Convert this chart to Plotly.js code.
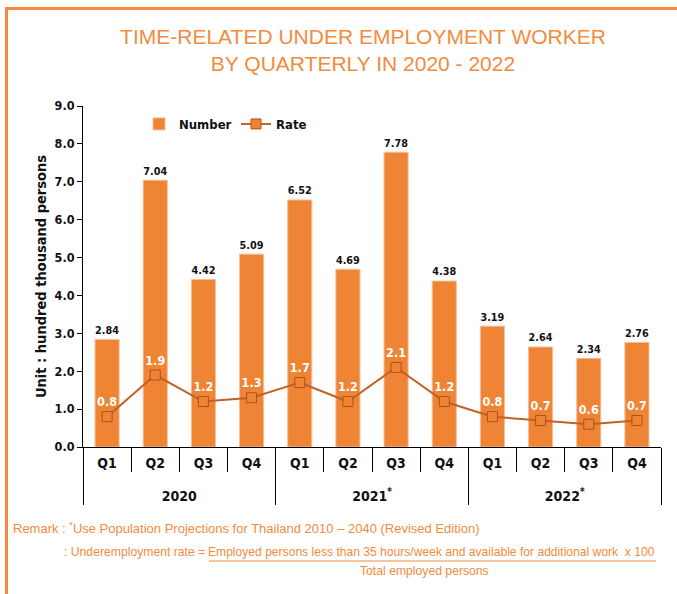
<!DOCTYPE html>
<html>
<head>
<meta charset="utf-8">
<script src="https://cdn.plot.ly/plotly-3.0.1.min.js"></script>
<style>
  html, body { margin: 0; padding: 0; background: #fff; }
  #chart { position: absolute; left: 0; top: 0; width: 677px; height: 594px; }
  #frame { position: absolute; left: 5px; top: 7px; width: 700px; height: 620px;
           border-top: 3px solid #F28B3E; border-left: 3px solid #F28B3E; pointer-events: none; }
</style>
</head>
<body>
<div id="chart"></div>
<div id="frame"></div>
<script>
// ---- data ----
const years = ['2020','2020','2020','2020',
               '2021<sup>*</sup>','2021<sup>*</sup>','2021<sup>*</sup>','2021<sup>*</sup>',
               '2022<sup>*</sup>','2022<sup>*</sup>','2022<sup>*</sup>','2022<sup>*</sup>'];
const quarters = ['Q1','Q2','Q3','Q4','Q1','Q2','Q3','Q4','Q1','Q2','Q3','Q4'];
const numberVals = [2.84, 7.04, 4.42, 5.09, 6.52, 4.69, 7.78, 4.38, 3.19, 2.64, 2.34, 2.76];
const rateVals   = [0.8, 1.9, 1.2, 1.3, 1.7, 1.2, 2.1, 1.2, 0.8, 0.7, 0.6, 0.7];

const ORANGE = '#EE8434';
const TXT_OR = '#F28B3E';
const BOLD = 'DejaVu Sans Condensed, DejaVu Sans, sans-serif';
const REG = 'Liberation Sans, Arial, sans-serif';

// year labels sit one line lower than the quarter labels
const yearLabels = years.map(y => '&nbsp;<br>' + y);

// pixel helpers for plot-area geometry (plot: x 83..661, y 106..447)
const L = 83, R = 661, T = 106, B = 447;
const px = v => (v - L) / (R - L);
const py = v => (B - v) / (B - T);

const traces = [
  {
    type: 'bar', name: 'Number',
    x: [yearLabels, quarters], y: numberVals,
    width: 0.5,
    marker: { color: ORANGE, line: { color: '#F7BE93', width: 1 } },
    text: numberVals.map(v => v.toFixed(2)),
    textposition: 'outside',
    textfont: { family: BOLD, size: 12.5, color: '#111', weight: 'bold' },
    cliponaxis: false,
    hoverinfo: 'skip'
  },
  {
    type: 'scatter', mode: 'lines+markers+text', name: 'Rate',
    x: [yearLabels, quarters], y: rateVals,
    line: { color: '#BF6128', width: 2 },
    marker: { symbol: 'square', size: 10, color: ORANGE, line: { color: '#A9541F', width: 1 } },
    text: rateVals.map(v => v.toFixed(1)),
    textposition: 'top center',
    textfont: { family: BOLD, size: 12.5, color: '#ffffff', weight: 'bold' },
    cliponaxis: false,
    hoverinfo: 'skip'
  }
];

const layout = {
  width: 677, height: 594,
  margin: { l: L, r: 677 - R, t: T, b: 594 - B },
  paper_bgcolor: '#fff', plot_bgcolor: '#fff',
  showlegend: true,
  title: {
    text: 'TIME-RELATED UNDER EMPLOYMENT WORKER<br>BY QUARTERLY IN 2020 - 2022',
    font: { family: REG, size: 21, color: TXT_OR },
    x: 363 / 677, xanchor: 'center', xref: 'container',
    y: 1 - 44 / 594, yanchor: 'top', yref: 'container'
  },
  legend: {
    orientation: 'h', x: px(139), y: py(124), xanchor: 'left', yanchor: 'middle',
    font: { family: BOLD, size: 13, color: '#111', weight: 'bold' },
    entrywidth: 52, entrywidthmode: 'pixels',
    bgcolor: 'rgba(0,0,0,0)', traceorder: 'normal'
  },
  xaxis: {
    type: 'multicategory',
    range: [-0.5, 11.5],
    showline: true, linecolor: '#000', linewidth: 1,
    ticks: 'outside', tickson: 'boundaries', ticklen: 24, tickcolor: '#000', tickwidth: 1,
    ticklabelstandoff: 3,
    showdividers: true, dividercolor: '#000', dividerwidth: 1,
    tickfont: { family: BOLD, size: 14, color: '#111', weight: 'bold' },
    showgrid: false, zeroline: false, fixedrange: true
  },
  yaxis: {
    range: [0, 9], dtick: 1, tickformat: '.1f',
    showline: true, linecolor: '#000', linewidth: 1,
    ticks: 'outside', ticklen: 5, tickcolor: '#000',
    tickfont: { family: BOLD, size: 12.5, color: '#111', weight: 'bold' },
    showgrid: false, zeroline: false, fixedrange: true,
    title: { text: 'Unit : hundred thousand persons', standoff: 4,
             font: { family: BOLD, size: 14.5, color: '#111', weight: 'bold' } }
  },
  shapes: [
    { type: 'line', xref: 'paper', yref: 'paper',
      x0: px(209), x1: px(656), y0: py(561), y1: py(561),
      line: { color: TXT_OR, width: 1 } }
  ],
  annotations: [
    { xref: 'paper', yref: 'paper', x: px(11), y: py(528), xanchor: 'left', yanchor: 'middle',
      showarrow: false, text: 'Remark : <sup>*</sup>Use Population Projections for Thailand 2010 – 2040 (Revised Edition)',
      font: { family: REG, size: 13, color: TXT_OR } },
    { xref: 'paper', yref: 'paper', x: px(62), y: py(552), xanchor: 'left', yanchor: 'middle',
      showarrow: false, text: ': Underemployment rate =',
      font: { family: REG, size: 12.2, color: TXT_OR } },
    { xref: 'paper', yref: 'paper', x: px(206), y: py(552), xanchor: 'left', yanchor: 'middle',
      showarrow: false, text: 'Employed persons less than 35 hours/week and available for additional work&nbsp;&nbsp;x 100',
      font: { family: REG, size: 12.1, color: TXT_OR } },
    { xref: 'paper', yref: 'paper', x: px(424), y: py(571), xanchor: 'center', yanchor: 'middle',
      showarrow: false, text: 'Total employed persons',
      font: { family: REG, size: 12.2, color: TXT_OR } }
  ]
};

Plotly.newPlot('chart', traces, layout, { staticPlot: true, displayModeBar: false });
</script>
</body>
</html>
